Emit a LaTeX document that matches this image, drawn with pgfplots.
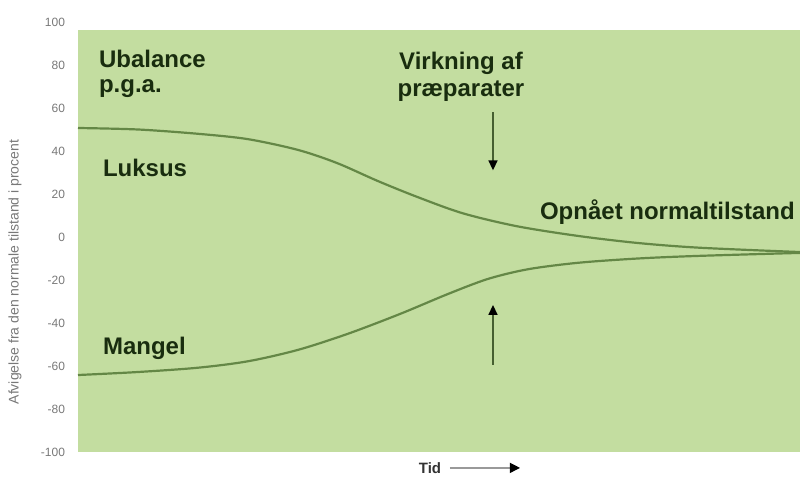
\documentclass[border=0pt]{standalone}
\usepackage{pgfplots}
\pgfplotsset{compat=1.18}
\usepackage{fontspec}
\setmainfont{Liberation Sans}
\usetikzlibrary{arrows.meta}
\definecolor{bg}{RGB}{195,221,160}
\definecolor{curve}{RGB}{100,135,70}
\definecolor{txt}{RGB}{25,45,15}
\definecolor{tick}{RGB}{120,120,120}
\begin{document}
\begin{tikzpicture}
\begin{axis}[name=ax,
  scale only axis, width=361pt, height=215pt,
  xmin=0, xmax=722, ymin=-100, ymax=100,
  axis line style={draw=none},
  xtick=\empty,
  ytick={-100,-80,-60,-40,-20,0,20,40,60,80,100},
  major tick length=0pt,
  yticklabel style={font=\fontsize{6}{7}\selectfont, text=tick, xshift=-3pt},
  /pgf/number format/assume math mode=true,
  clip=false,
]
\fill[bg] (axis cs:0,-100) rectangle (axis cs:722,96.3);
\addplot[curve, line width=1.1pt, smooth] coordinates {
(0,50.7) (60,50) (120,48) (170,45.5) (220,40.5) (259,34.4) (300,26) (340,18.5) (385,11) (439,5) (500,0.5) (560,-2.8) (622,-5) (722,-7.0)};
\addplot[curve, line width=1.1pt, smooth] coordinates {
(0,-64.2) (60,-62.8) (120,-60.8) (170,-57.8) (220,-52.5) (270,-45) (322,-35.8) (370,-26.5) (410,-19.5) (450,-15) (500,-12) (560,-10) (620,-8.8) (722,-7.4)};
\node[anchor=north west, align=left, text=txt, font=\fontsize{12}{12.5}\selectfont\bfseries] at (axis cs:14,90) {Ubalance\\p.g.a.};
\node[anchor=west, text=txt, font=\fontsize{12}{14}\selectfont\bfseries] at (axis cs:18,32.1) {Luksus};
\node[anchor=west, text=txt, font=\fontsize{12}{14}\selectfont\bfseries] at (axis cs:18,-51.6) {Mangel};
\node[align=center, text=txt, font=\fontsize{12}{13.5}\selectfont\bfseries] at (axis cs:383,74.7) {Virkning af\\præparater};
\node[anchor=west, text=txt, font=\fontsize{12}{14}\selectfont\bfseries] at (axis cs:455,11.6) {Opnået normaltilstand};
\draw[curve!70!black, line width=0.8pt, -{Triangle[length=5pt,width=4.5pt,color=black]}] (axis cs:415,58) -- (axis cs:415,31);
\draw[curve!70!black, line width=0.8pt, -{Triangle[length=5pt,width=4.5pt,color=black]}] (axis cs:415,-59.5) -- (axis cs:415,-31.6);
\node[font=\fontsize{7}{8}\selectfont, text=tick, rotate=90] at (axis cs:-63,-16.3) {Afvigelse fra den normale tilstand i procent};
\node[font=\fontsize{7.5}{9}\selectfont\bfseries, text=black!80] at (axis cs:352,-107.4) {Tid};
\draw[black!40, line width=0.6pt, -{Triangle[length=5pt,width=5pt,color=black]}] (axis cs:372,-107.4) -- (axis cs:442,-107.4);
\end{axis}
\pgfresetboundingbox
\path[use as bounding box] ([xshift=-39pt,yshift=-14.5pt]ax.south west) rectangle ([yshift=11pt]ax.north east);
\end{tikzpicture}
\end{document}
